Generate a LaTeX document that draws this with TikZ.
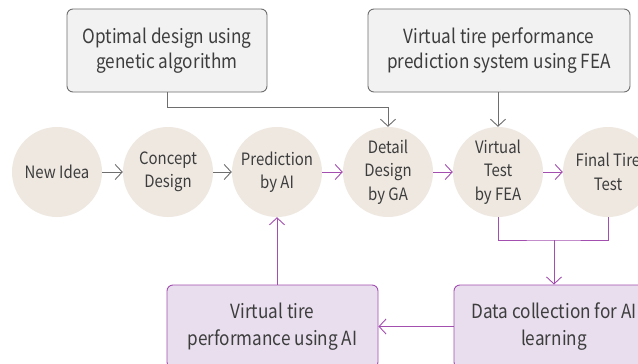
\documentclass[tikz,border=0pt]{standalone}
\usepackage{fontspec}
\setmainfont{Noto Sans CJK KR}[FakeStretch=0.88]
\usetikzlibrary{arrows.meta,positioning,calc}
\definecolor{beige}{HTML}{EEE8E1}
\definecolor{gfill}{HTML}{F1F2F1}
\definecolor{gline}{HTML}{6E6E6E}
\definecolor{pline}{HTML}{A34FB0}
\definecolor{pfill}{HTML}{E8DEEE}
\definecolor{txt}{HTML}{3D3D3D}
\tikzset{
  stage/.style={circle,fill=beige,minimum size=90pt,inner sep=0pt,align=center,text=txt,
    font=\fontsize{17}{23.5}\selectfont},
  topbox/.style={draw=gline,fill=gfill,rounded corners=6pt,line width=0.9pt,align=center,text=txt,
    minimum height=83pt,font=\fontsize{19.5}{25}\selectfont},
  botbox/.style={draw=pline,fill=pfill,rounded corners=6pt,line width=0.9pt,align=center,text=txt,
    minimum height=83pt,font=\fontsize{19.5}{27}\selectfont},
  garr/.style={draw=gline,line width=0.9pt,-{Straight Barb[length=7pt,width=15pt]}},
  parr/.style={draw=pline,line width=0.9pt,-{Straight Barb[length=7pt,width=15pt]}},
  pline/.style={draw=pline,line width=0.9pt},
  gline/.style={draw=gline,line width=0.9pt},
}
\begin{document}
\begin{tikzpicture}[x=1pt,y=-1pt]
\useasboundingbox (0,0) rectangle (638,364);
\clip (0,0) rectangle (638,364);
\fill[white] (0,0) rectangle (638,364);
% stages
\node[stage] (c1) at (57,172) {New Idea};
\node[stage] (c2) at (168,172) {Concept\\Design};
\node[stage] (c3) at (277,172) {Prediction\\by AI};
\node[stage] (c4) at (388,172) {Detail\\Design\\by GA};
\node[stage] (c5) at (498,172) {Virtual\\Test\\by FEA};
\node[stage] (c6) at (608,172) {Final Tire\\Test};
% top boxes
\node[topbox,minimum width=200pt] (b1) at (167,50.5) {Optimal design using\\genetic algorithm};
\node[topbox,minimum width=262pt] (b2) at (499,50.5) {Virtual tire performance\\prediction system using FEA};
% bottom boxes
\node[botbox,minimum width=211pt] (v) at (272.5,326.5) {Virtual tire\\performance using AI};
\node[botbox,minimum width=200pt] (d) at (554,326.5) {Data collection for AI\\learning};
% flow arrows
\draw[garr] (c1) -- (c2);
\draw[garr] (c2) -- (c3);
\draw[parr] (c3) -- (c4);
\draw[parr] (c4) -- (c5);
\draw[parr] (c5) -- (c6);
% top connectors
\coordinate (k1) at (388,107);
\draw[gline] (b1.south) |- (k1);
\draw[garr] (k1) -- (c4.north);
\draw[garr] (b2.south -| c5.north) -- (c5.north);
% bottom connectors
\coordinate (j) at (554,240);
\draw[pline] (c5.south) |- (j) -| (c6.south);
\draw[parr] (j) -- (d.north);
\draw[parr] (d.west) -- (v.east);
\draw[parr] (c3.south |- v.north) -- (c3.south);
\end{tikzpicture}
\end{document}
